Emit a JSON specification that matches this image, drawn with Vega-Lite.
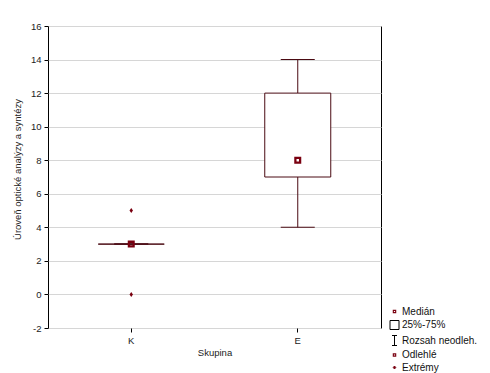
{
  "$schema": "https://vega.github.io/schema/vega-lite/v6.json",
  "width": 333,
  "height": 302,
  "autosize": {"type": "none"},
  "padding": {"left": 48, "top": 26, "right": 109, "bottom": 45},
  "background": "white",
  "config": {
    "font": "Liberation Sans",
    "view": {"stroke": "black", "strokeWidth": 1},
    "axis": {
      "labelFont": "Liberation Sans",
      "titleFont": "Liberation Sans",
      "labelFontSize": 9.5,
      "titleFontSize": 9.5,
      "titleFontWeight": "normal",
      "labelColor": "#222",
      "titleColor": "#222",
      "tickColor": "black",
      "tickSize": 4,
      "domain": false,
      "gridColor": "#d6d6d6",
      "labelOverlap": false
    },
    "legend": {
      "labelFont": "Liberation Sans",
      "labelFontSize": 10,
      "labelColor": "#111"
    }
  },
  "datasets": {
    "summary": [
      {"g": "K", "q1": 3, "q3": 3, "med": 3, "lo": 3, "hi": 3},
      {"g": "E", "q1": 7, "q3": 12, "med": 8, "lo": 4, "hi": 14}
    ],
    "extremes": [
      {"g": "K", "v": 5},
      {"g": "K", "v": 0}
    ],
    "legendItems": [
      {"item": "Medián"},
      {"item": "25%-75%"},
      {"item": "Rozsah neodleh."},
      {"item": "Odlehlé"},
      {"item": "Extrémy"}
    ]
  },
  "encoding": {
    "x": {
      "field": "g",
      "type": "nominal",
      "sort": ["K", "E"],
      "scale": {"domain": ["K", "E"], "paddingInner": 0, "paddingOuter": 0},
      "axis": {"title": "Skupina", "labelAngle": 0, "labelPadding": 3, "titlePadding": 3, "grid": false}
    }
  },
  "layer": [
    {
      "data": {"name": "summary"},
      "mark": {"type": "rule", "color": "#4a0a12", "strokeWidth": 1},
      "encoding": {
        "y": {
          "field": "lo",
          "type": "quantitative",
          "scale": {"domain": [-2, 16], "nice": false, "zero": false},
          "axis": {"title": "Úroveň optické analýzy a syntézy", "values": [-2, 0, 2, 4, 6, 8, 10, 12, 14, 16], "labelExpr": "datum.value", "grid": true, "labelPadding": 3, "titlePadding": 8, "titleY": 143}
        },
        "y2": {"field": "hi"}
      }
    },
    {
      "data": {"name": "summary"},
      "mark": {"type": "tick", "color": "#4a0a12", "size": 34, "thickness": 1, "opacity": 1},
      "encoding": {"y": {"field": "lo", "type": "quantitative", "axis": {"title": "Úroveň optické analýzy a syntézy", "values": [-2, 0, 2, 4, 6, 8, 10, 12, 14, 16], "labelExpr": "datum.value", "grid": true, "labelPadding": 3, "titlePadding": 8, "titleY": 143}}}
    },
    {
      "data": {"name": "summary"},
      "mark": {"type": "tick", "color": "#4a0a12", "size": 34, "thickness": 1, "opacity": 1},
      "encoding": {"y": {"field": "hi", "type": "quantitative", "axis": {"title": "Úroveň optické analýzy a syntézy", "values": [-2, 0, 2, 4, 6, 8, 10, 12, 14, 16], "labelExpr": "datum.value", "grid": true, "labelPadding": 3, "titlePadding": 8, "titleY": 143}}}
    },
    {
      "data": {"name": "summary"},
      "mark": {"type": "bar", "size": 66, "fill": "white", "stroke": "#4a0a12", "strokeWidth": 1},
      "encoding": {
        "y": {"field": "q1", "type": "quantitative", "axis": {"title": "Úroveň optické analýzy a syntézy", "values": [-2, 0, 2, 4, 6, 8, 10, 12, 14, 16], "labelExpr": "datum.value", "grid": true, "labelPadding": 3, "titlePadding": 8, "titleY": 143}},
        "y2": {"field": "q3"}
      }
    },
    {
      "data": {"name": "summary"},
      "mark": {"type": "point", "shape": "M-1,-1H1V1H-1ZM-0.35,-0.35V0.35H0.35V-0.35Z", "size": 49, "filled": true, "color": "#7a0010", "opacity": 1},
      "encoding": {"y": {"field": "med", "type": "quantitative", "axis": {"title": "Úroveň optické analýzy a syntézy", "values": [-2, 0, 2, 4, 6, 8, 10, 12, 14, 16], "labelExpr": "datum.value", "grid": true, "labelPadding": 3, "titlePadding": 8, "titleY": 143}}}
    },
    {
      "data": {"name": "extremes"},
      "mark": {"type": "point", "shape": "M0,-1L0.7,0L0,1L-0.7,0Z", "size": 25, "filled": true, "color": "#7a0010", "opacity": 1},
      "encoding": {"y": {"field": "v", "type": "quantitative", "axis": {"title": "Úroveň optické analýzy a syntézy", "values": [-2, 0, 2, 4, 6, 8, 10, 12, 14, 16], "labelExpr": "datum.value", "grid": true, "labelPadding": 3, "titlePadding": 8, "titleY": 143}}}
    },
    {
      "data": {"name": "legendItems"},
      "transform": [{"filter": "false"}],
      "mark": {"type": "point", "opacity": 1, "size": 100, "strokeWidth": 1},
      "encoding": {
        "x": {"value": 0},
        "y": {"value": 0},
        "shape": {
          "field": "item",
          "type": "nominal",
          "scale": {
            "domain": ["Medián", "25%-75%", "Rozsah neodleh.", "Odlehlé", "Extrémy"],
            "range": [
              "M-0.35,-0.35H0.35V0.35H-0.35ZM-0.12,-0.12V0.12H0.12V-0.12Z",
              "M-0.9,-0.9H0.9V0.9H-0.9Z",
              "M-0.5,-1H0.5M0,-1V1M-0.5,1H0.5",
              "M-0.35,-0.35H0.35V0.35H-0.35ZM-0.12,-0.12V0.12H0.12V-0.12Z",
              "M0,-0.3L0.25,0L0,0.3L-0.25,0Z"
            ]
          },
          "legend": {
            "title": null,
            "orient": "none",
            "legendX": 341,
            "legendY": 280,
            "rowPadding": 1.5,
            "labelOffset": 2,
            "padding": 0,
            "symbolSize": 100,
            "symbolStrokeWidth": 1
          }
        },
        "fill": {
          "field": "item",
          "type": "nominal",
          "scale": {
            "domain": ["Medián", "25%-75%", "Rozsah neodleh.", "Odlehlé", "Extrémy"],
            "range": ["#7a0010", "white", "transparent", "#7a0010", "#7a0010"]
          }
        },
        "stroke": {
          "field": "item",
          "type": "nominal",
          "scale": {
            "domain": ["Medián", "25%-75%", "Rozsah neodleh.", "Odlehlé", "Extrémy"],
            "range": ["transparent", "black", "black", "transparent", "#7a0010"]
          }
        }
      }
    }
  ]
}
